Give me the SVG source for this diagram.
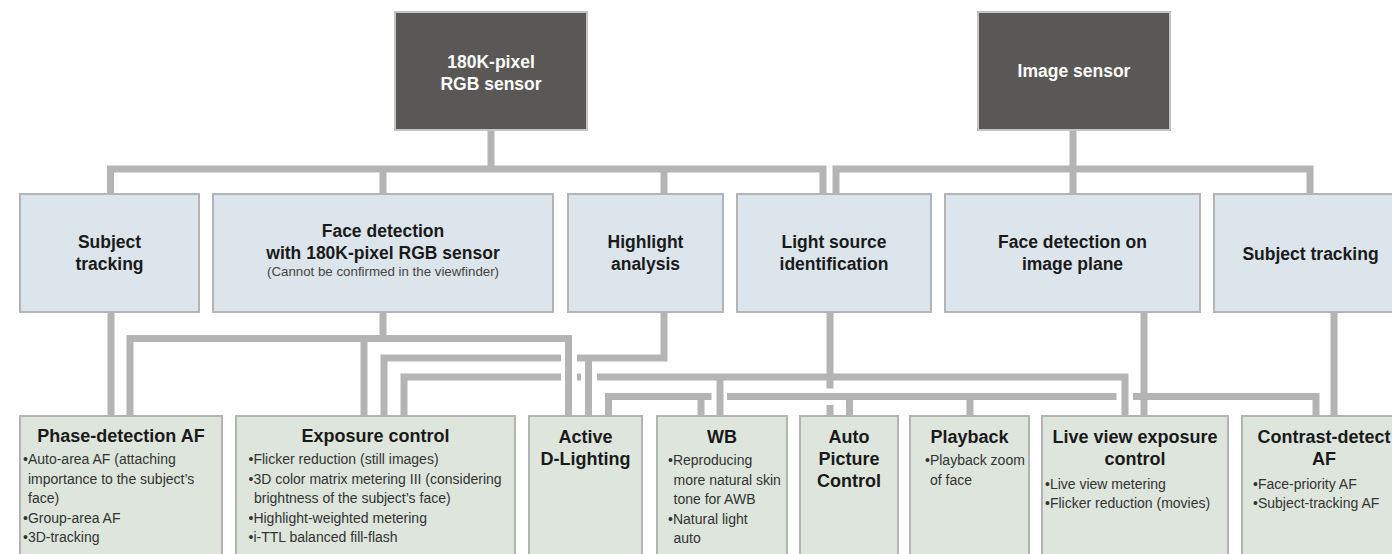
<svg xmlns="http://www.w3.org/2000/svg" width="1392" height="554" viewBox="0 0 1392 554">
<style>
.c{fill:none;stroke:#b4b4b4;stroke-width:7;stroke-linejoin:miter;stroke-linecap:butt}
.top rect{fill:#5a5856;stroke:#c4c4c4;stroke-width:2}
.mid rect{fill:#dce5ec;stroke:#b4b4b4;stroke-width:2}
.bot rect{fill:#dee5dd;stroke:#b4b4b4;stroke-width:2}
text{font-family:"Liberation Sans",Arial,sans-serif}
.hw{fill:#fff;font-weight:bold;font-size:17.5px;text-anchor:middle}
.hm{fill:#1a1a1a;font-weight:bold;font-size:17.5px;text-anchor:middle}
.hb{fill:#1a1a1a;font-weight:bold;font-size:18px;text-anchor:middle}
.sub{fill:#444;font-size:13.3px;text-anchor:middle}
.b{fill:#333;font-size:14px}
</style>
<rect width="1392" height="554" fill="#fff"/>
<g id="connectors" class="c">
  <!-- top: RGB sensor -->
  <line x1="491" y1="130" x2="491" y2="169"/>
  <polyline points="110.5,194 110.5,169 823,169 823,194"/>
  <line x1="383" y1="169" x2="383" y2="194"/>
  <line x1="664" y1="169" x2="664" y2="194"/>
  <!-- top: Image sensor -->
  <line x1="1073" y1="130" x2="1073" y2="169"/>
  <polyline points="836,194 836,169 1310,169 1310,194"/>
  <line x1="1073" y1="169" x2="1073" y2="194"/>
  <!-- subject tracking -> phase detection -->
  <line x1="111" y1="312" x2="111" y2="416"/>
  <!-- face detection RGB -->
  <line x1="383" y1="312" x2="383" y2="338.5"/>
  <polyline points="130,416 130,338.5 568.5,338.5 568.5,416"/>
  <line x1="364" y1="338.5" x2="364" y2="416"/>
  <!-- highlight analysis -->
  <polyline points="384,416 384,358 561,358"/>
  <polyline points="664,312 664,358 577,358"/>
  <line x1="588.5" y1="358" x2="588.5" y2="416"/>
  <!-- light source identification -->
  <polyline points="404,416 404,377 561,377"/>
  <line x1="577" y1="377" x2="581" y2="377"/>
  <polyline points="597,377 1125,377 1125,416"/>
  <line x1="720" y1="377" x2="720" y2="416"/>
  <line x1="830" y1="312" x2="830" y2="388.5"/>
  <line x1="830" y1="405" x2="830" y2="416"/>
  <!-- face detection on image plane -->
  <line x1="1144" y1="312" x2="1144" y2="416"/>
  <polyline points="608.5,416 608.5,396.5 711.5,396.5"/>
  <line x1="701" y1="396.5" x2="701" y2="416"/>
  <line x1="727" y1="396.5" x2="1116.5" y2="396.5"/>
  <line x1="849.5" y1="396.5" x2="849.5" y2="416"/>
  <line x1="970" y1="396.5" x2="970" y2="416"/>
  <polyline points="1133,396.5 1316,396.5 1316,416"/>
  <!-- subject tracking (image) -> contrast AF -->
  <line x1="1334" y1="312" x2="1334" y2="416"/>
</g>
<g class="top">
  <g id="rgb-sensor"><rect x="395" y="12" width="192" height="118"/>
    <text class="hw"><tspan x="491" y="68">180K-pixel</tspan><tspan x="491" y="90">RGB sensor</tspan></text></g>
  <g id="image-sensor"><rect x="978" y="12" width="192" height="118"/>
    <text class="hw" x="1074" y="77">Image sensor</text></g>
</g>
<g class="mid">
  <g id="subject-tracking-1"><rect x="20" y="194" width="179" height="118"/>
    <text class="hm"><tspan x="109.5" y="248">Subject</tspan><tspan x="109.5" y="270">tracking</tspan></text></g>
  <g id="face-detection-rgb"><rect x="213" y="194" width="340" height="118"/>
    <text class="hm"><tspan x="383" y="237">Face detection</tspan><tspan x="383" y="258.5">with 180K-pixel RGB sensor</tspan></text>
    <text class="sub" x="383" y="276">(Cannot be confirmed in the viewfinder)</text></g>
  <g id="highlight-analysis"><rect x="568" y="194" width="155" height="118"/>
    <text class="hm"><tspan x="645.5" y="248">Highlight</tspan><tspan x="645.5" y="270">analysis</tspan></text></g>
  <g id="light-source"><rect x="737" y="194" width="194" height="118"/>
    <text class="hm"><tspan x="834" y="248">Light source</tspan><tspan x="834" y="270">identification</tspan></text></g>
  <g id="face-detection-image"><rect x="945" y="194" width="255" height="118"/>
    <text class="hm"><tspan x="1072.5" y="248">Face detection on</tspan><tspan x="1072.5" y="270">image plane</tspan></text></g>
  <g id="subject-tracking-2"><rect x="1214" y="194" width="193" height="118"/>
    <text class="hm" x="1310.5" y="260">Subject tracking</text></g>
</g>
<g class="bot">
  <g id="phase-af"><rect x="20" y="416" width="202" height="150"/>
    <text class="hb" x="121" y="442">Phase-detection AF</text>
    <text class="b"><tspan x="23" y="464">•Auto-area AF (attaching</tspan><tspan x="28" y="483.5">importance to the subject’s</tspan><tspan x="28" y="503">face)</tspan><tspan x="23" y="522.5">•Group-area AF</tspan><tspan x="23" y="542">•3D-tracking</tspan></text></g>
  <g id="exposure-control"><rect x="236" y="416" width="279" height="150"/>
    <text class="hb" x="375.5" y="442">Exposure control</text>
    <text class="b"><tspan x="248.5" y="464">•Flicker reduction (still images)</tspan><tspan x="248.5" y="483.5">•3D color matrix metering III (considering</tspan><tspan x="254" y="503">brightness of the subject’s face)</tspan><tspan x="248.5" y="522.5">•Highlight-weighted metering</tspan><tspan x="248.5" y="542">•i-TTL balanced fill-flash</tspan></text></g>
  <g id="active-d-lighting"><rect x="529" y="416" width="113" height="150"/>
    <text class="hb"><tspan x="585.5" y="443">Active</tspan><tspan x="585.5" y="465">D-Lighting</tspan></text></g>
  <g id="wb"><rect x="657" y="416" width="130" height="150"/>
    <text class="hb" x="722" y="443">WB</text>
    <text class="b"><tspan x="668" y="465">•Reproducing</tspan><tspan x="673.5" y="484.5">more natural skin</tspan><tspan x="673.5" y="504">tone for AWB</tspan><tspan x="668" y="523.5">•Natural light</tspan><tspan x="673.5" y="543">auto</tspan></text></g>
  <g id="auto-picture-control"><rect x="800" y="416" width="98" height="150"/>
    <text class="hb"><tspan x="849" y="443">Auto</tspan><tspan x="849" y="465">Picture</tspan><tspan x="849" y="487">Control</tspan></text></g>
  <g id="playback"><rect x="910" y="416" width="119" height="150"/>
    <text class="hb" x="969.5" y="443">Playback</text>
    <text class="b"><tspan x="925" y="465">•Playback zoom</tspan><tspan x="930" y="484.5">of face</tspan></text></g>
  <g id="live-view-exposure"><rect x="1042" y="416" width="186" height="150"/>
    <text class="hb"><tspan x="1135" y="443">Live view exposure</tspan><tspan x="1135" y="465">control</tspan></text>
    <text class="b"><tspan x="1045" y="488.5">•Live view metering</tspan><tspan x="1045" y="507.5">•Flicker reduction (movies)</tspan></text></g>
  <g id="contrast-af"><rect x="1242" y="416" width="164" height="150"/>
    <text class="hb"><tspan x="1324" y="443">Contrast-detect</tspan><tspan x="1324" y="465">AF</tspan></text>
    <text class="b"><tspan x="1253" y="488.5">•Face-priority AF</tspan><tspan x="1253" y="507.5">•Subject-tracking AF</tspan></text></g>
</g>
</svg>
